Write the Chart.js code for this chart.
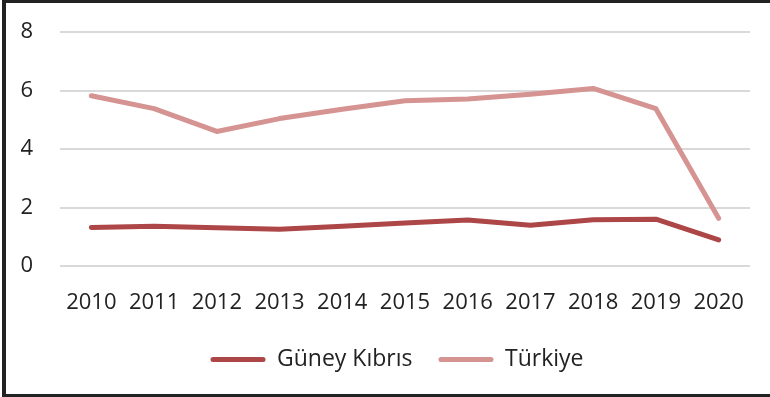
<!DOCTYPE html>
<html>
<head>
<meta charset="utf-8">
<script src="https://cdn.jsdelivr.net/npm/chart.js@4/dist/chart.umd.min.js"></script>
<style>
  html, body { margin: 0; padding: 0; background: #fff; }
  #wrap { position: relative; width: 770px; height: 397px; }
  #chart { position: absolute; left: 0; top: 0; }
  #frame {
    position: absolute; left: 2px; top: 0; width: 768px; height: 397px;
    box-sizing: border-box; border-left: 4px solid #222; border-top: 3px solid #222;
    border-bottom: 3px solid #222; pointer-events: none;
  }
</style>
</head>
<body>
<div id="wrap">
  <canvas id="chart" width="770" height="397"></canvas>
  <div id="frame"></div>
</div>
<script>
const years = ['2010','2011','2012','2013','2014','2015','2016','2017','2018','2019','2020'];
const guneyKibris = [1.32, 1.36, 1.31, 1.26, 1.36, 1.47, 1.57, 1.39, 1.58, 1.60, 0.89];
const turkiye = [5.82, 5.38, 4.60, 5.04, 5.36, 5.65, 5.71, 5.87, 6.07, 5.38, 1.63];
const yTicks = [0, 2, 4, 6, 8];

const FONT = "'Open Sans', sans-serif";

// Nudge the bottom legend so it sits centred under the whole frame.
const legendShift = {
  id: 'legendShift',
  afterLayout(chart) {
    const lg = chart.legend;
    if (lg) { lg.left += 22; lg.right += 22; }
  }
};

new Chart(document.getElementById('chart'), {
  type: 'line',
  data: {
    labels: years,
    datasets: [
      {
        label: 'Güney Kıbrıs',
        data: guneyKibris,
        borderColor: '#AD4646',
        backgroundColor: '#AD4646',
        borderWidth: 5,
        borderCapStyle: 'round',
        borderJoinStyle: 'round',
        pointRadius: 0,
        tension: 0
      },
      {
        label: 'Türkiye',
        data: turkiye,
        borderColor: '#D59391',
        backgroundColor: '#D59391',
        borderWidth: 5,
        borderCapStyle: 'round',
        borderJoinStyle: 'round',
        pointRadius: 0,
        tension: 0
      }
    ]
  },
  plugins: [legendShift],
  options: {
    responsive: false,
    animation: false,
    events: [],
    layout: { padding: { left: 0, right: 20, top: 32, bottom: 16 } },
    plugins: {
      tooltip: { enabled: false },
      legend: {
        position: 'bottom',
        labels: {
          boxWidth: 55,
          boxHeight: 5,
          padding: 26,
          useBorderRadius: true,
          borderRadius: 2.5,
          color: '#222',
          font: { family: FONT, size: 23 },
          generateLabels(chart) {
            return chart.data.datasets.map((ds, i) => ({
              text: ds.label,
              fillStyle: ds.borderColor,
              strokeStyle: ds.borderColor,
              lineWidth: 0,
              borderRadius: 2.5,
              fontColor: '#222',
              datasetIndex: i,
              hidden: false
            }));
          }
        }
      }
    },
    scales: {
      x: {
        offset: true,
        grid: { display: false, drawTicks: false },
        border: { display: false },
        ticks: {
          color: '#222',
          padding: 24,
          maxRotation: 0,
          autoSkip: false,
          font: { family: FONT, size: 22 }
        },
        afterFit(scale) { scale.height = 56; }
      },
      y: {
        min: 0,
        max: 8,
        afterBuildTicks(scale) { scale.ticks = yTicks.map(v => ({ value: v })); },
        grid: { color: '#d9d9d9', lineWidth: 2, drawTicks: false },
        border: { display: false },
        ticks: {
          color: '#222',
          padding: 27,
          font: { family: FONT, size: 22 }
        },
        afterFit(scale) {
          scale.width = 60;
          scale.paddingTop = 0;
          scale.paddingBottom = 0;
        }
      }
    }
  }
});
</script>
</body>
</html>
